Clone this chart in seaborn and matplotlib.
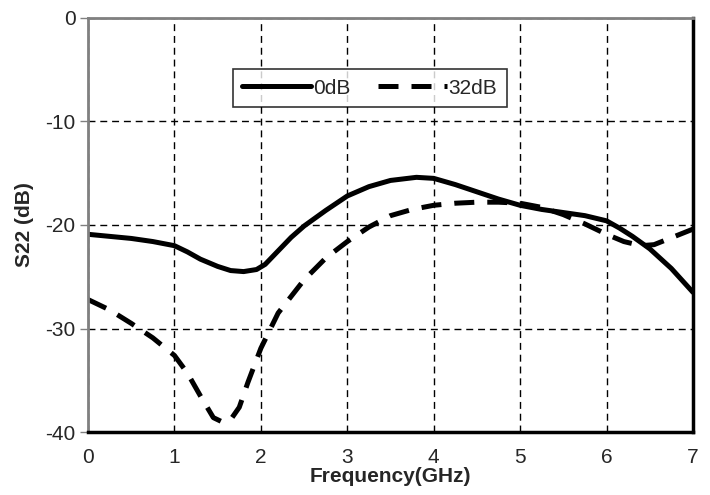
import matplotlib.pyplot as plt
import numpy as np
import pandas as pd
import seaborn as sns
from matplotlib.lines import Line2D

# Values
freq_0db = [0.0, 0.25, 0.5, 0.75, 1.0, 1.15, 1.3, 1.5, 1.65, 1.8, 1.95, 2.05, 2.2, 2.35, 2.5, 2.75, 3.0,
            3.25, 3.5, 3.8, 4.0, 4.25, 4.5, 4.75, 5.0, 5.25, 5.5, 5.75, 6.0, 6.15, 6.3, 6.5, 6.75, 7.0]
s22_0db = [-20.9, -21.1, -21.3, -21.6, -22.0, -22.6, -23.3, -24.0, -24.4, -24.5, -24.3, -23.8, -22.5,
           -21.2, -20.1, -18.6, -17.2, -16.3, -15.7, -15.4, -15.5, -16.1, -16.8, -17.5, -18.1, -18.5,
           -18.8, -19.1, -19.6, -20.3, -21.1, -22.3, -24.2, -26.5]

freq_32db = [0.0, 0.25, 0.5, 0.75, 1.0, 1.15, 1.3, 1.45, 1.55, 1.65, 1.75, 1.85, 2.0, 2.2, 2.5, 2.75,
             3.0, 3.25, 3.5, 3.75, 4.0, 4.25, 4.5, 4.75, 5.0, 5.25, 5.5, 5.75, 6.0, 6.2, 6.4, 6.55, 6.7,
             6.85, 7.0]
s22_32db = [-27.2, -28.2, -29.5, -30.9, -32.6, -34.3, -36.5, -38.6, -39.0, -38.8, -37.6, -35.2, -31.9,
            -28.5, -25.3, -23.2, -21.6, -20.2, -19.1, -18.5, -18.1, -17.9, -17.8, -17.8, -17.9, -18.3,
            -19.0, -19.9, -20.9, -21.6, -22.0, -21.9, -21.4, -20.9, -20.4]

df = pd.concat([
    pd.DataFrame({"Frequency": freq_0db, "S22": s22_0db, "Case": "0dB"}),
    pd.DataFrame({"Frequency": freq_32db, "S22": s22_32db, "Case": "32dB"}),
])

sns.set_style("white")
plt.rcParams["font.family"] = ["Liberation Sans", "DejaVu Sans"]
plt.rcParams["axes.unicode_minus"] = False

fig = plt.figure(figsize=(7.1, 4.95), dpi=100)
ax = fig.add_axes([0.124, 0.127, 0.852, 0.837])

dash = (4.0, 2.6)
sns.lineplot(data=df, x="Frequency", y="S22", hue="Case", style="Case",
             palette={"0dB": "black", "32dB": "black"},
             dashes={"0dB": "", "32dB": dash},
             linewidth=3.6, sort=False, ax=ax, legend=False)

ax.set_xlim(0, 7)
ax.set_ylim(-40, 0)
ax.set_xticks(np.arange(0, 8, 1))
ax.set_yticks(np.arange(-40, 1, 10))

ax.grid(True, color="black", linestyle=(0, (5, 3.5)), linewidth=1.0)
ax.tick_params(axis="y", left=True, length=6, width=1, color="#808080", labelsize=15, pad=3)
ax.tick_params(axis="x", bottom=False, labelsize=15, pad=8)

for side in ["left", "top"]:
    ax.spines[side].set_color("#808080")
    ax.spines[side].set_linewidth(2)
for side in ["right", "bottom"]:
    ax.spines[side].set_color("black")
    ax.spines[side].set_linewidth(2.5)

ax.set_xlabel("Frequency(GHz)", fontsize=15, fontweight="bold", labelpad=0)
ax.set_ylabel("S22 (dB)", fontsize=15, fontweight="bold", labelpad=8)

handles = [Line2D([], [], color="black", linewidth=3.6),
           Line2D([], [], color="black", linewidth=3.6, dashes=dash)]
leg = ax.legend(handles, ["0dB", "32dB"], ncol=2, loc="center", bbox_to_anchor=(0.466, 0.83),
                fontsize=15, frameon=True, fancybox=False, edgecolor="black",
                handlelength=3.3, handletextpad=0.1, columnspacing=1.3, borderpad=0.45,
                borderaxespad=0)
leg.get_frame().set_linewidth(1.2)

fig.savefig("out.png", dpi=100)
